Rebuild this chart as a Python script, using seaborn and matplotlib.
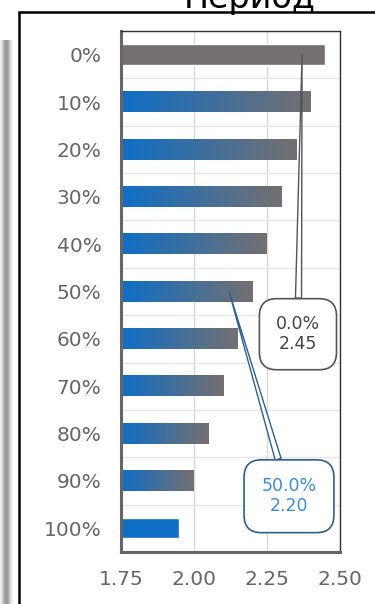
import numpy as np
import pandas as pd
import matplotlib
matplotlib.use("Agg")
import matplotlib.pyplot as plt
from matplotlib.colors import LinearSegmentedColormap
from matplotlib.patches import Rectangle
import seaborn as sns

# Data
categories = ['0%', '10%', '20%', '30%', '40%', '50%', '60%', '70%', '80%', '90%', '100%']
values = [2.45, 2.40, 2.35, 2.30, 2.25, 2.20, 2.15, 2.10, 2.05, 2.00, 1.95]
x_ticks = [1.75, 2.00, 2.25, 2.50]
callouts = [  # (category index, pointer x, label text)
    (0, 2.37, '0.0%\n2.45'),
    (5, 2.12, '50.0%\n2.20'),
]

BLUE = '#0e6ec6'
GRAY = '#757070'

df = pd.DataFrame({'level': categories, 'value': values})

sns.set_style("white")
plt.rcParams['font.family'] = ['DejaVu Sans']

fig = plt.figure(figsize=(3.75, 6.04), dpi=100)
ax = fig.add_axes([0.3227, 0.0861, 0.584, 0.8626])

sns.barplot(data=df, x='value', y='level', orient='h', color=GRAY,
            width=0.43, ax=ax, zorder=2)

# gradient fill blue -> gray per bar
cmap = LinearSegmentedColormap.from_list('bg', [BLUE, GRAY])
grad = np.linspace(0, 1, 256).reshape(1, -1)
n = len(ax.patches)
for i, p in enumerate(ax.patches):
    x0 = 1.75
    x1 = p.get_x() + p.get_width()
    y0 = p.get_y()
    y1 = y0 + p.get_height()
    if i == 0:
        p.set_facecolor(GRAY)
        continue
    if i == n - 1:
        p.set_facecolor(BLUE)
        continue
    p.set_facecolor('none')
    p.set_edgecolor('none')
    ax.imshow(grad, cmap=cmap, extent=(x0, x1, y1, y0), aspect='auto',
              interpolation='bilinear', zorder=2)

ax.set_xlim(1.75, 2.50)
ax.set_ylim(10.5, -0.5)

ax.set_xticks(x_ticks)
ax.set_xticklabels([f"{t:.2f}" for t in x_ticks])
ax.set_yticks(range(len(categories)))
ax.set_yticklabels(categories)
ax.set_yticks(np.arange(-0.5, len(categories), 1), minor=True)
ax.grid(axis='x', which='major', color='#d8d8d8', lw=1, zorder=0)
ax.grid(axis='y', which='minor', color='#e6e6e6', lw=1, zorder=0)
ax.tick_params(axis='both', which='both', length=0, labelsize=14.5,
               colors='#666666')
ax.tick_params(axis='y', pad=14)
ax.tick_params(axis='x', pad=13)
ax.set_xlabel('')
ax.set_ylabel('')

for side in ['top', 'right']:
    ax.spines[side].set_color('#333333')
    ax.spines[side].set_linewidth(1.0)
for side in ['left', 'bottom']:
    ax.spines[side].set_color('#666666')
    ax.spines[side].set_linewidth(2.2)

# callouts
styles = [
    dict(text='#444444', edge='#555555', pos=(0.808, 0.418), pad=0.95),
    dict(text='#3a8ed6', edge='#2d5f8f', pos=(0.767, 0.107), pad=1.0),
]
for (idx, px, label), st in zip(callouts, styles):
    ax.annotate(label, xy=(px, idx), xycoords='data',
                xytext=st['pos'], textcoords='axes fraction',
                ha='center', va='center', fontsize=12.5, color=st['text'],
                linespacing=1.15,
                bbox=dict(boxstyle=f"round,pad={st['pad']},rounding_size=1.0",
                          fc='white', ec=st['edge'], lw=1.2),
                arrowprops=dict(arrowstyle='wedge,tail_width=0.35',
                                fc='white', ec=st['edge'], lw=1.0,
                                shrinkA=0, shrinkB=0),
                zorder=5)

# outer frame and left shadow strip
fig.patches.append(Rectangle((19 / 375, -0.1), 1.2, 1 - 11.5 / 604 + 0.1,
                             transform=fig.transFigure, fill=False,
                             ec='black', lw=1.8, zorder=0))
shade = np.array([[0.95, 0.85, 0.72, 0.62, 0.6, 0.66, 0.78, 0.9, 0.97, 1.0]])
sax = fig.add_axes([0, 0, 15 / 375, 1 - 40 / 604])
sax.imshow(shade, cmap='gray', vmin=0, vmax=1, aspect='auto',
           interpolation='bilinear')
sax.axis('off')

# title, clipped at the top edge as in the source image
fig.text(0.665, 1 - 8 / 604, 'Период', ha='center', va='baseline',
         fontsize=24, color='black')

fig.savefig('out.png', dpi=100)
